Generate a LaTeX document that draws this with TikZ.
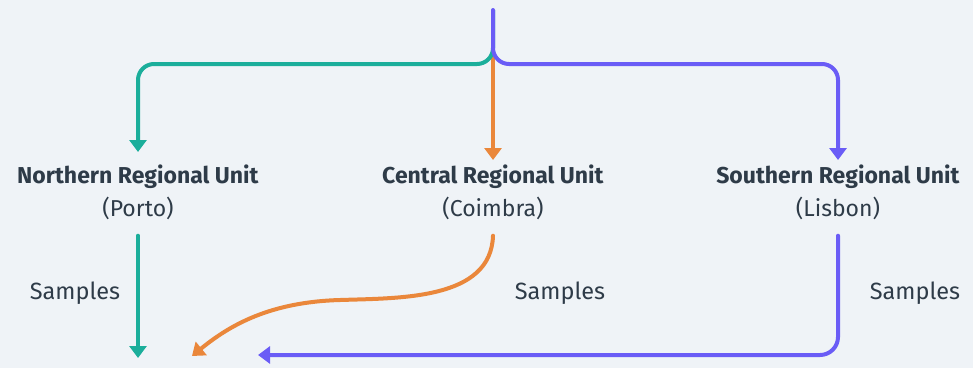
\documentclass[tikz,border=0pt]{standalone}
\usepackage{fontspec}
\setmainfont{Fira Sans}
\usetikzlibrary{arrows.meta}

\definecolor{bgcol}{HTML}{EFF3F7}
\definecolor{inkcol}{HTML}{2E3B48}
\definecolor{northcol}{HTML}{1BAE9B}
\definecolor{centralcol}{HTML}{EA873B}
\definecolor{southcol}{HTML}{6A5CF6}

\begin{document}
\begin{tikzpicture}[
		x=1pt, y=-1pt,
		unit/.style  = {align=center, text=inkcol, inner sep=0pt,
			font=\fontsize{23}{33}\selectfont},
		flowlabel/.style = {text=inkcol, inner sep=0pt, font=\fontsize{23.5}{27}\selectfont},
		flow/.style  = {line width=4pt, rounded corners=16pt,
			-{Triangle[length=12pt,width=17pt]}},
		sendflow/.style = {line width=4pt, line cap=round,
			-{Triangle[length=12pt,width=17pt]}}]
		
		% background and picture size
		\fill[bgcol] (0,0) rectangle (973,368);
		\useasboundingbox (0,0) rectangle (973,368);
		
		% regional units
		\node[unit] (north)   at (138,192) {\textbf{Northern Regional Unit}\\(Porto)};
		\node[unit] (central) at (493,192) {\textbf{Central Regional Unit}\\(Coimbra)};
		\node[unit] (south)   at (838,192) {\textbf{Southern Regional Unit}\\(Lisbon)};
		
		% free ends, top and bottom
		\coordinate (src) at (493,10);
		\coordinate (n1) at (138,152);
		\coordinate (c1) at (493,160);
		\coordinate (s1) at (838,160);
		\coordinate (n2) at (138,358);
		\coordinate (c2) at (192,356);
		\coordinate (s2) at (258,355);
		
		% lines from the top to every unit
		\draw[flow, centralcol] (src) -- (c1);
		\draw[flow, northcol] (src) -- ++(0,54) -| (n1);
		\draw[flow, southcol, line cap=round] (src) -- ++(0,54) -| (s1);
		
		% samples sent on
		\draw[sendflow, northcol] ([yshift=-16pt]north.south) -- (n2);
		\draw[sendflow, centralcol] ([yshift=-16pt]central.south)
			.. controls (491,300) and (400,298) .. (340,300)
			.. controls (270,302) and (230,325) .. (c2);
		\draw[sendflow, southcol, rounded corners=18pt] ([yshift=-16pt]south.south) |- (s2);
		
		\node[flowlabel] (sn) at (75,293)  {Samples};
		\node[flowlabel] (sc) at (560,293) {Samples};
		\node[flowlabel] (ss) at (915,293) {Samples};
\end{tikzpicture}
\end{document}
